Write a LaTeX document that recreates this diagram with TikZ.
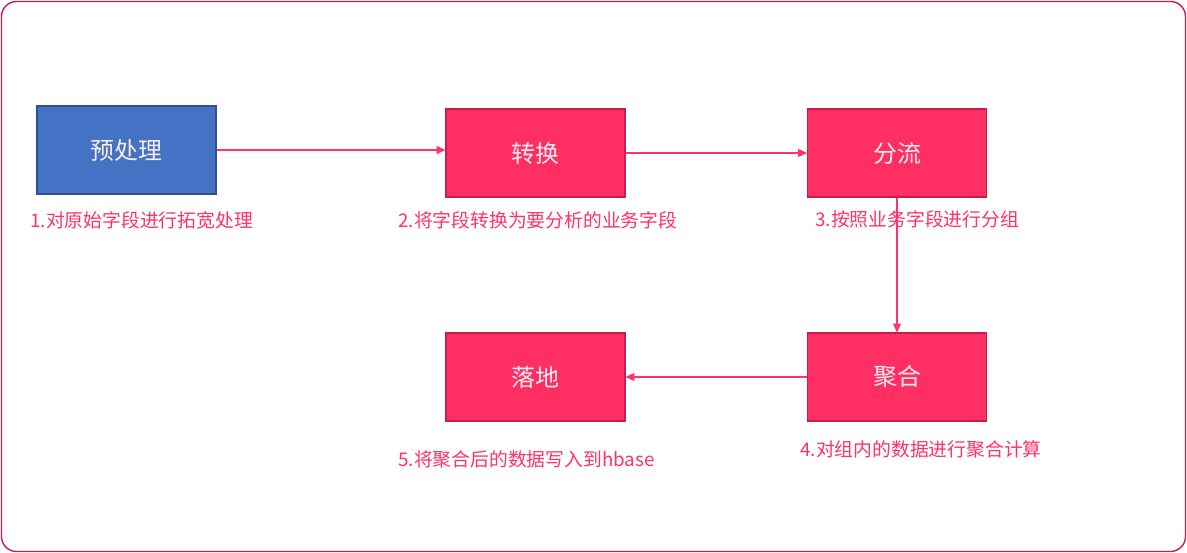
\documentclass[tikz,border=0pt]{standalone}
\usepackage{fontspec}
\newfontfamily\cjk{Noto Sans CJK SC}
\usetikzlibrary{arrows.meta}
\definecolor{framec}{RGB}{204,28,82}
\definecolor{pinkfill}{RGB}{255,46,99}
\definecolor{pinkdraw}{RGB}{200,30,75}
\definecolor{bluefill}{RGB}{68,114,196}
\definecolor{bluedraw}{RGB}{47,82,143}
\definecolor{labelc}{RGB}{255,51,102}
\definecolor{boxtext}{RGB}{250,236,240}
\tikzset{
  stepbox/.style={draw=pinkdraw, fill=pinkfill, line width=0.6pt, minimum width=179*0.02cm, minimum height=88*0.02cm, inner sep=0pt, text=boxtext, font=\cjk\fontsize{13.6}{16}\selectfont},
  bluebox/.style={stepbox, draw=bluedraw, fill=bluefill},
  lbl/.style={anchor=west, inner sep=0pt, text=labelc, font=\cjk\fontsize{10.7}{12}\selectfont},
  conn/.style={draw=labelc, line width=0.6pt, -{Triangle[length=5pt,width=4.5pt]}}
}
\begin{document}
\begin{tikzpicture}[x=0.02cm,y=-0.02cm]
\useasboundingbox (0,0) rectangle (1187,553);
\draw[framec, line width=0.8pt, rounded corners=15*0.02cm] (1.5,1.5) rectangle (1185.5,551.5);
\node[bluebox] (pre) at (126.5,150) {预处理};
\node[stepbox] (conv) at (535.5,153) {转换};
\node[stepbox] (split) at (897,153) {分流};
\node[stepbox] (land) at (535.5,377) {落地};
\node[stepbox] (agg) at (897,377) {聚合};
\draw[conn] (pre.east) -- (pre.east -| conv.west);
\draw[conn] (conv.east) -- (split.west);
\draw[conn] (split.south) -- (agg.north);
\draw[conn] (agg.west) -- (land.east);
\node[lbl] (l1) at (30,220) {1.对原始字段进行拓宽处理};
\node[lbl] (l2) at (398,220) {2.将字段转换为要分析的业务字段};
\node[lbl] (l3) at (815,219) {3.按照业务字段进行分组};
\node[lbl] (l4) at (800,449) {4.对组内的数据进行聚合计算};
\node[lbl] (l5) at (398,459) {5.将聚合后的数据写入到hbase};
\end{tikzpicture}
\end{document}
